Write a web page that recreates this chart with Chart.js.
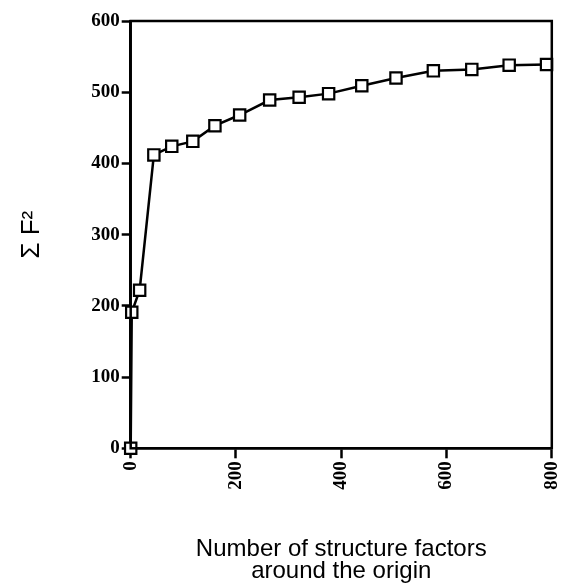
<!DOCTYPE html>
<html>
<head>
<meta charset="utf-8">
<script src="https://cdn.jsdelivr.net/npm/chart.js@4"></script>
<style>
  html, body { margin: 0; padding: 0; background: #fff; overflow: hidden; }
  #wrap { width: 562px; height: 587px; }
</style>
</head>
<body>
<div id="wrap"><canvas id="grafico"></canvas></div>
<script>
// valores
const nFactors = [0, 2, 17, 44, 78, 118, 160, 207, 264, 320, 376, 439, 504, 575, 648, 719, 790];
const sumF2 = [0, 191, 222, 412, 424, 431, 453, 468, 489, 493, 498, 509, 520, 530, 532, 538, 539];
const xTicks = [0, 200, 400, 600, 800];
const yTicks = [0, 100, 200, 300, 400, 500, 600];

const pontos = nFactors.map((x, i) => ({ x: x, y: sumF2[i] }));

// moldura em volta da area do grafico (topo e direita)
const moldura = {
    id: 'moldura',
    afterDraw(chart) {
        const a = chart.chartArea;
        const ctx = chart.ctx;
        ctx.save();
        ctx.strokeStyle = '#000';
        ctx.lineWidth = 2.5;
        ctx.strokeRect(a.left, a.top, a.right - a.left, a.bottom - a.top);
        ctx.restore();
    }
};

const tickFont = { family: '"Liberation Serif", "Times New Roman", serif', size: 19, weight: 'bold' };

const config = {
    type: 'line',
    data: {
        datasets: [{
            data: pontos,
            borderColor: '#000',
            borderWidth: 2.5,
            backgroundColor: '#fff',
            pointStyle: 'rect',
            pointRadius: 8,
            pointBorderWidth: 2.2,
            pointBackgroundColor: '#fff',
            pointBorderColor: '#000',
            tension: 0,
            fill: false,
            clip: false
        }]
    },
    options: {
        responsive: true,
        maintainAspectRatio: false,
        animation: false,
        layout: { padding: { top: 21, right: 10, left: 16, bottom: 5 } },
        plugins: {
            legend: { display: false },
            tooltip: { enabled: false }
        },
        scales: {
            x: {
                type: 'linear',
                min: 0,
                max: 800,
                afterBuildTicks: (axis) => { axis.ticks = xTicks.map(v => ({ value: v })); },
                afterFit: (axis) => { axis.paddingRight = 0; },
                ticks: {
                    color: '#000',
                    font: tickFont,
                    minRotation: 90,
                    maxRotation: 90,
                    padding: 3
                },
                grid: {
                    drawOnChartArea: false,
                    drawTicks: true,
                    tickLength: 10,
                    tickColor: '#000',
                    tickWidth: 2.5
                },
                border: { color: '#000', width: 2.5 },
                title: {
                    display: true,
                    text: ['Number of structure factors', 'around the origin'],
                    color: '#000',
                    font: { family: '"Liberation Sans", Arial, sans-serif', size: 24, lineHeight: 0.9 },
                    padding: { top: 46, bottom: 0 }
                }
            },
            y: {
                min: 0,
                max: 600,
                afterBuildTicks: (axis) => { axis.ticks = yTicks.map(v => ({ value: v })); },
                ticks: {
                    color: '#000',
                    font: tickFont,
                    padding: 2
                },
                grid: {
                    drawOnChartArea: false,
                    drawTicks: true,
                    tickLength: 9,
                    tickColor: '#000',
                    tickWidth: 2.5
                },
                border: { color: '#000', width: 2.5 },
                title: {
                    display: true,
                    text: 'Σ F²',
                    color: '#000',
                    font: { family: '"Liberation Sans", Arial, sans-serif', size: 26 },
                    padding: { top: 0, bottom: 42 }
                }
            }
        }
    },
    plugins: [moldura]
};

const ctx = document.getElementById('grafico').getContext('2d');
new Chart(ctx, config);
</script>
</body>
</html>
